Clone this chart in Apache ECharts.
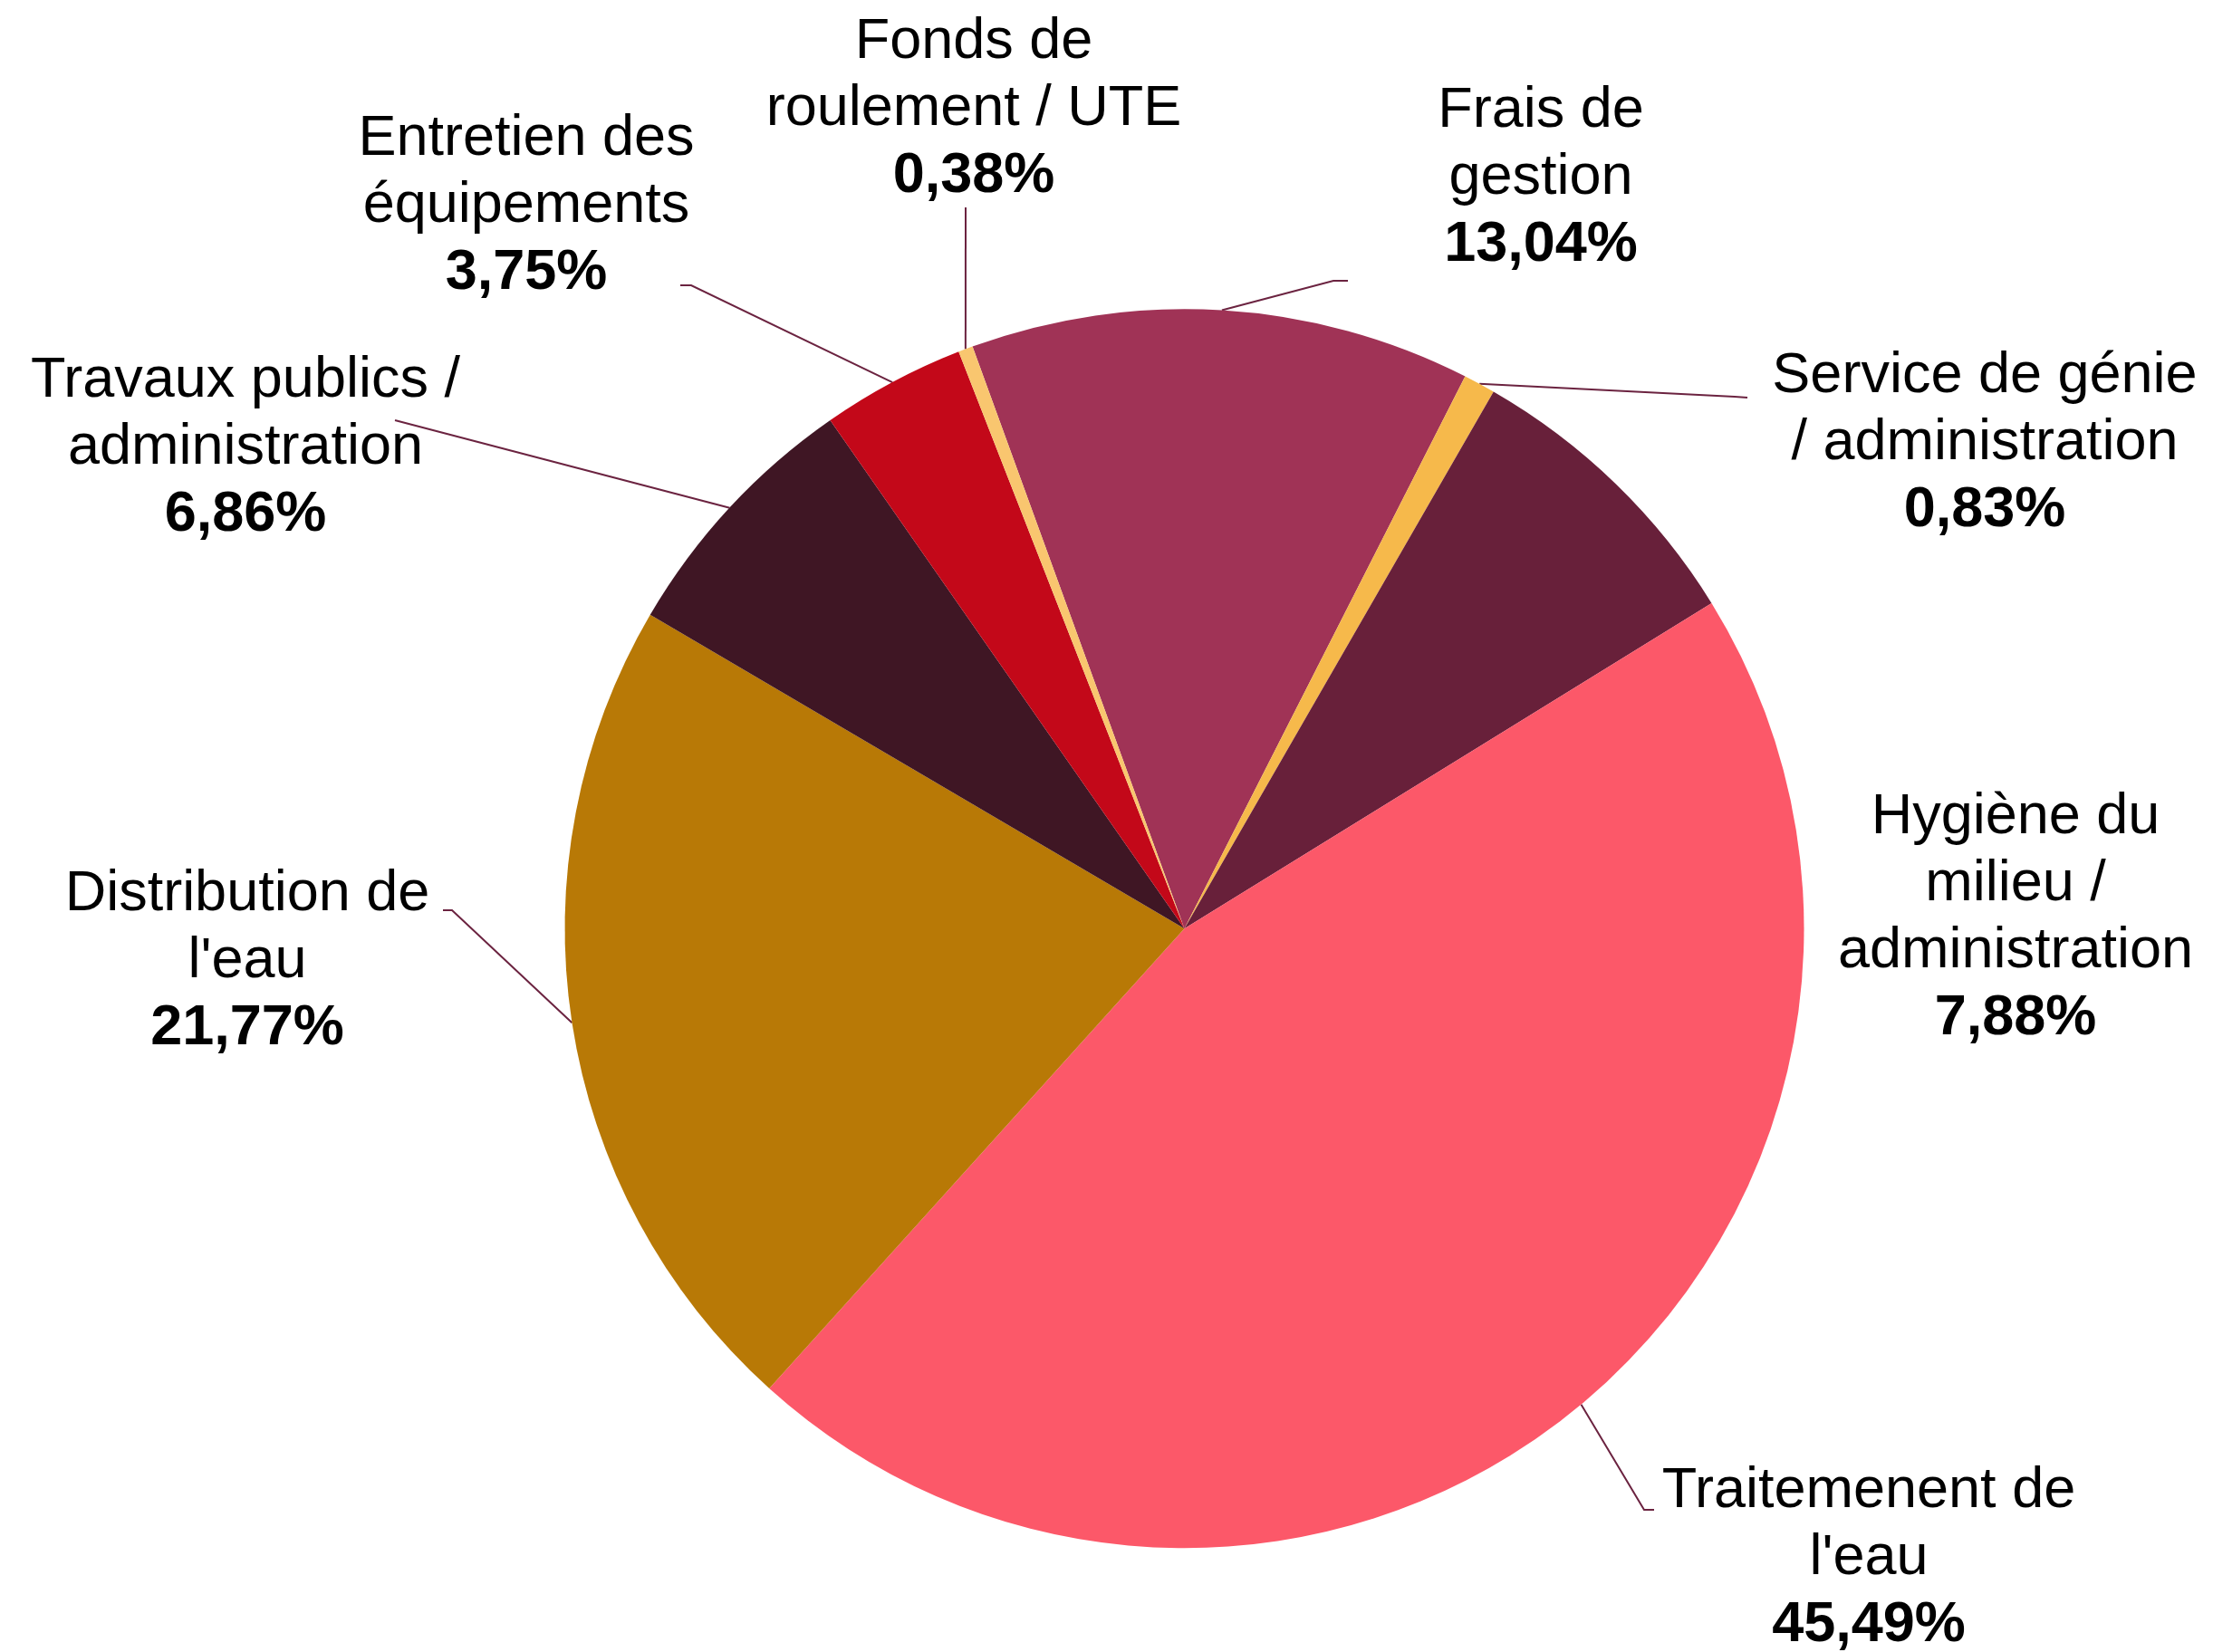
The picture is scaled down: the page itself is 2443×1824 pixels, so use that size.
<!DOCTYPE html>
<html>
<head>
<meta charset="utf-8">
<script src="https://cdn.jsdelivr.net/npm/echarts@6/dist/echarts.min.js"></script>
<style>
html, body { margin: 0; padding: 0; background: #ffffff; }
#chart { width: 2443px; height: 1824px; }
</style>
</head>
<body>
<div id="chart"></div>
<script>
// ---- Data (clockwise order, starting with "Frais de gestion") ----
const categories = [
  'Frais de\ngestion',
  'Service de génie\n/ administration',
  'Hygiène du\nmilieu /\nadministration',
  "Traitemenent de\nl'eau",
  "Distribution de\nl'eau",
  'Travaux publics /\nadministration',
  'Entretien des\néquipements',
  'Fonds de\nroulement / UTE'
];
const values = [13.04, 0.83, 7.88, 45.49, 21.77, 6.86, 3.75, 0.38];
const percentLabels = ['13,04%', '0,83%', '7,88%', '45,49%', '21,77%', '6,86%', '3,75%', '0,38%'];
const colors = ['#A03356', '#F6B94B', '#68203A', '#FC5869', '#B87906', '#3F1624', '#C30819', '#F9C66F'];

// ---- Label placement (text-block top-centre) and leader-line ends ----
const labelAnchors = [
  [1701, 86], [2191, 379], [2225, 866], [2063, 1610],
  [273, 951], [271, 384], [581, 117], [1075, 10]
];
const leaderEnds = [
  [[1472, 310], [1488, 310]],
  [[1915, 438], [1929, 439]],
  null,
  [[1815, 1667], [1826, 1667]],
  [[499, 1005], [489, 1005]],
  [[436, 464], [436, 464]],
  [[763, 315], [751, 315]],
  [[1066, 229], [1066, 229]]
];

const FONT = "'Liberation Sans', Arial, sans-serif";
const chart = echarts.init(document.getElementById('chart'), null, { renderer: 'canvas' });

const seriesData = categories.map(function (name, i) {
  const item = { name: name, value: values[i], itemStyle: { color: colors[i] } };
  if (!leaderEnds[i]) item.labelLine = { show: false };
  return item;
});

chart.setOption({
  backgroundColor: '#ffffff',
  animation: false,
  series: [{
    type: 'pie',
    center: [1307.5, 1025.3],
    radius: [0, 684],
    startAngle: 110,
    clockwise: true,
    avoidLabelOverlap: false,
    data: seriesData,
    itemStyle: { borderWidth: 0 },
    label: {
      show: true,
      position: 'outside',
      formatter: function (p) {
        return '{n|' + p.name + '}\n{p|' + percentLabels[p.dataIndex] + '}';
      },
      rich: {
        n: { fontFamily: FONT, fontSize: 63, lineHeight: 74, color: '#000000', align: 'center' },
        p: { fontFamily: FONT, fontSize: 63, lineHeight: 74, fontWeight: 'bold', color: '#000000', align: 'center' }
      },
      align: 'center'
    },
    labelLine: {
      show: true,
      lineStyle: { color: '#6B2340', width: 2 }
    },
    labelLayout: function (params) {
      const i = params.dataIndex;
      const a = labelAnchors[i];
      const out = { x: a[0], y: a[1], align: 'center', verticalAlign: 'top' };
      if (leaderEnds[i] && params.labelLinePoints) {
        out.labelLinePoints = [params.labelLinePoints[0], leaderEnds[i][0], leaderEnds[i][1]];
      }
      return out;
    }
  }]
});
</script>
</body>
</html>
